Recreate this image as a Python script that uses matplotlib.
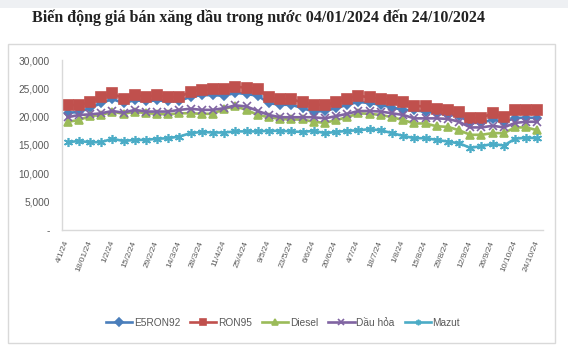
import matplotlib.pyplot as plt
from matplotlib.patches import Rectangle
from matplotlib import font_manager
import numpy as np

# Weekly dates (43 points), labels on every second one
dates = ['4/1/24', '11/1/24', '18/01/24', '25/1/24', '1/2/24', '8/2/24',
         '15/2/24', '22/2/24', '29/2/24', '7/3/24', '14/3/24', '21/3/24',
         '28/3/24', '4/4/24', '11/4/24', '18/4/24', '25/4/24', '2/5/24',
         '9/5/24', '16/5/24', '23/5/24', '30/5/24', '6/6/24', '13/6/24',
         '20/6/24', '27/6/24', '4/7/24', '11/7/24', '18/7/24', '25/7/24',
         '1/8/24', '8/8/24', '15/8/24', '22/8/24', '29/8/24', '5/9/24',
         '12/9/24', '19/9/24', '26/9/24', '3/10/24', '10/10/24', '17/10/24',
         '24/10/24']

e5ron92 = [20700, 20800, 21500, 22400, 23100, 22400, 22900, 22700, 22900, 22700,
           22800, 23500, 23800, 23800, 23700, 24200, 24000, 23700, 22400, 22100,
           22100, 21500, 20900, 21000, 21500, 22100, 22600, 22400, 22100, 21600,
           21200, 21100, 20900, 20600, 20300, 20200, 18900, 18900, 19500, 19000,
           19800, 19800, 19800]
ron95 = [22100, 22000, 22600, 23500, 24100, 23200, 23800, 23500, 23800, 23400,
         23500, 24400, 24700, 24800, 24800, 25300, 25100, 24900, 23400, 23100,
         23100, 22500, 22100, 22100, 22600, 23200, 23700, 23400, 23200, 22900,
         22600, 21900, 21800, 21400, 21100, 20900, 19700, 19800, 20600, 19900,
         21200, 21100, 21200]
diesel = [19100, 19400, 20100, 20300, 20900, 20500, 20900, 20600, 20500, 20400,
          20600, 20600, 20500, 20500, 21400, 21800, 21200, 20300, 19900, 19600,
          19500, 19500, 19100, 18900, 19400, 19900, 20600, 20500, 20300, 19900,
          19400, 18800, 18800, 18300, 18200, 17600, 16800, 16800, 17100, 17100,
          18100, 18100, 17600]
dau_hoa = [19900, 20300, 20400, 20600, 21000, 20700, 21200, 20900, 20900, 20900,
           21200, 21400, 21200, 21200, 21500, 22000, 21800, 21000, 20300, 19900,
           19900, 19900, 19900, 19700, 20100, 20500, 21000, 21000, 20900, 20600,
           20300, 19700, 19700, 19700, 19600, 19100, 18100, 18100, 18400, 18100,
           18900, 19100, 19100]
mazut = [15500, 15700, 15500, 15500, 16100, 15700, 15900, 15900, 16100, 16200,
         16500, 17100, 17300, 17200, 17200, 17400, 17400, 17400, 17500, 17500,
         17400, 17300, 17500, 17100, 17300, 17500, 17600, 17800, 17600, 17100,
         16600, 16200, 16200, 15900, 15600, 15300, 14500, 14800, 15200, 14900,
         16100, 16300, 16200]

# narrow font for the date labels if it exists
names = {f.name for f in font_manager.fontManager.ttflist}
date_font = 'Liberation Sans Narrow' if 'Liberation Sans Narrow' in names else 'Liberation Sans'

fig = plt.figure(figsize=(5.68, 3.64), dpi=100)
fig.patch.set_facecolor('white')

# top grey strip and chart frame
fig.patches.append(Rectangle((0, 1 - 8 / 364), 1, 8 / 364, transform=fig.transFigure,
                             facecolor='#eef0f3', edgecolor='none'))
fig.patches.append(Rectangle((8 / 568, 1 - 343 / 364), 547 / 568, 299 / 364,
                             transform=fig.transFigure, facecolor='none',
                             edgecolor='#d9d9d9', linewidth=1))

fig.text(258 / 568, 1 - 18 / 364,
         'Biến động giá bán xăng dầu trong nước 04/01/2024 đến 24/10/2024',
         ha='center', va='center', fontsize=11.5, fontweight='bold',
         family='Liberation Serif', color='#222222')

ax = fig.add_axes([62 / 568, 1 - 230 / 364, 481 / 568, 170 / 364])
x = np.arange(len(dates))

series = [
    (e5ron92, 'E5RON92', '#4a7ebb', 'D', 4.5),
    (ron95, 'RON95', '#c0504d', 's', 7),
    (diesel, 'Diesel', '#9bbb59', '^', 6),
    (dau_hoa, 'Dầu hỏa', '#8064a2', 'x', 5.5),
    (mazut, 'Mazut', '#4bacc6', (6, 2, 0), 6.5),
]
for vals, name, col, mk, ms in series:
    ax.plot(x, vals, color=col, linewidth=1.9, marker=mk, markersize=ms,
            markerfacecolor=col, markeredgecolor=col, markeredgewidth=1.2,
            label=name)

ax.set_xlim(-0.5, len(dates) - 0.5)
ax.set_ylim(0, 30000)
yt = np.arange(0, 30001, 5000)
ax.set_yticks(yt)
ax.set_yticklabels(['-'] + [f'{v:,}' for v in yt[1:]], family='Liberation Sans',
                   fontsize=7.3, color='#595959')
ax.set_xticks(x[::2])
ax.set_xticklabels(dates[::2], rotation=68, ha='right', va='center',
                   rotation_mode='anchor', family=date_font,
                   fontsize=6, color='#595959')
ax.tick_params(axis='both', length=0)
ax.tick_params(axis='x', pad=8)
ax.tick_params(axis='y', pad=9)

for s in ['top', 'right']:
    ax.spines[s].set_visible(False)
for s in ['left', 'bottom']:
    ax.spines[s].set_color('#d9d9d9')
    ax.spines[s].set_linewidth(1)

leg = fig.legend(loc='center', bbox_to_anchor=(283 / 568, 1 - 323 / 364), ncol=5,
                 frameon=False, prop={'family': 'Liberation Sans', 'size': 7.3},
                 handlelength=2.6, columnspacing=1.0, handletextpad=0.15)
for t in leg.get_texts():
    t.set_color('#595959')
for h in leg.legend_handles:
    h.set_markersize(4)

fig.savefig('out.png', dpi=100)
